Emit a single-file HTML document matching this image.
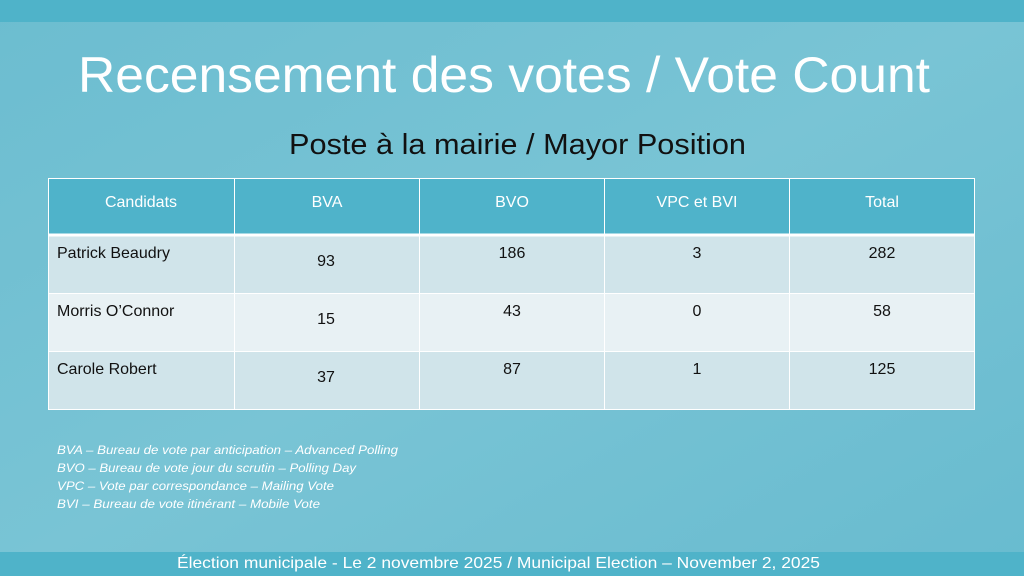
<!DOCTYPE html>
<html><head><meta charset="utf-8"><style>
html,body{margin:0;padding:0;width:1024px;height:576px;overflow:hidden}
svg{display:block;font-family:"Liberation Sans",sans-serif}
</style></head><body>
<svg width="1024" height="576" viewBox="0 0 1024 576">
<defs><linearGradient id="g" x1="0" y1="0" x2="1" y2="1">
<stop offset="0" stop-color="#6cbdd0"/><stop offset="0.5" stop-color="#79c4d5"/><stop offset="1" stop-color="#68bbcf"/></linearGradient></defs>
<rect width="1024" height="576" fill="url(#g)"/>
<rect width="1024" height="22" fill="#4fb3c9"/>
<rect y="552" width="1024" height="24" fill="#4fb3c9"/>
<text x="78" y="92" font-size="50" fill="#fff" textLength="852" lengthAdjust="spacingAndGlyphs">Recensement des votes / Vote Count</text>
<text x="289" y="154" font-size="29" fill="#111" textLength="457" lengthAdjust="spacingAndGlyphs">Poste à la mairie / Mayor Position</text>
<rect x="48" y="178" width="927" height="57" fill="#4fb3ca"/>
<rect x="48" y="236" width="927" height="57" fill="#d0e4ea"/>
<rect x="48" y="294" width="927" height="57" fill="#e8f1f4"/>
<rect x="48" y="352" width="927" height="57" fill="#d0e4ea"/>
<g stroke="#fff" stroke-width="1" fill="none">
<rect x="48.5" y="178.5" width="926" height="231"/>
<line x1="234.5" y1="178" x2="234.5" y2="410"/>
<line x1="419.5" y1="178" x2="419.5" y2="410"/>
<line x1="604.5" y1="178" x2="604.5" y2="410"/>
<line x1="789.5" y1="178" x2="789.5" y2="410"/>
<line x1="48" y1="235" x2="975" y2="235" stroke-width="3"/>
<line x1="48" y1="293.5" x2="975" y2="293.5"/>
<line x1="48" y1="351.5" x2="975" y2="351.5"/>
</g>
<g font-size="16" fill="#fff" text-anchor="middle">
<text x="141" y="207">Candidats</text><text x="327" y="207">BVA</text><text x="512" y="207">BVO</text><text x="697" y="207">VPC et BVI</text><text x="882" y="207">Total</text>
</g>
<g font-size="16" fill="#111">
<text x="57" y="258">Patrick Beaudry</text><text x="57" y="316">Morris O’Connor</text><text x="57" y="374">Carole Robert</text>
</g>
<g font-size="16" fill="#111" text-anchor="middle">
<text x="326" y="266">93</text><text x="512" y="258">186</text><text x="697" y="258">3</text><text x="882" y="258">282</text>
<text x="326" y="324">15</text><text x="512" y="316">43</text><text x="697" y="316">0</text><text x="882" y="316">58</text>
<text x="326" y="382">37</text><text x="512" y="374">87</text><text x="697" y="374">1</text><text x="882" y="374">125</text>
</g>
<g font-size="12" fill="#fff" font-style="italic">
<text x="57" y="454" textLength="341" lengthAdjust="spacingAndGlyphs">BVA – Bureau de vote par anticipation – Advanced Polling</text>
<text x="57" y="472" textLength="299" lengthAdjust="spacingAndGlyphs">BVO – Bureau de vote jour du scrutin – Polling Day</text>
<text x="57" y="490" textLength="277" lengthAdjust="spacingAndGlyphs">VPC – Vote par correspondance – Mailing Vote</text>
<text x="57" y="508" textLength="263" lengthAdjust="spacingAndGlyphs">BVI – Bureau de vote itinérant – Mobile Vote</text>
</g>
<text x="177" y="568" font-size="16" fill="#fff" textLength="643" lengthAdjust="spacingAndGlyphs">Élection municipale - Le 2 novembre 2025 / Municipal Election – November 2, 2025</text>
</svg>
</body></html>
